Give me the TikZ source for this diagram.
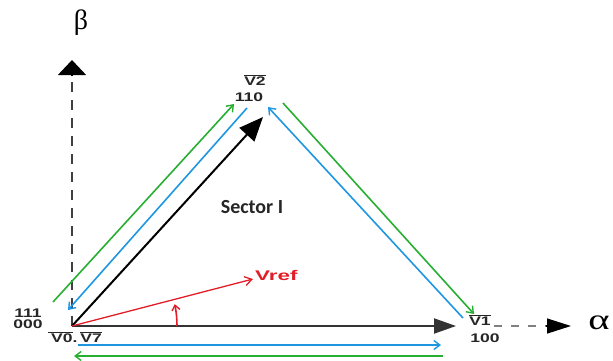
\documentclass[tikz,border=0pt]{standalone}
\usepackage{fontspec}
\setmainfont{Liberation Sans}
\newfontfamily\grkfont{Liberation Serif}
\newfontfamily\calfont{Carlito}
\usetikzlibrary{arrows.meta}
\definecolor{gr}{RGB}{40,175,50}
\definecolor{bl}{RGB}{30,150,225}
\definecolor{rd}{RGB}{225,30,40}
\newcommand{\stlbl}[1]{\scalebox{1.4}[1]{#1}}
\tikzset{
  lbl/.style={font=\bfseries\fontsize{12.5}{12.5}\selectfont, inner sep=0pt, text=black!85},
  col/.style={line width=1.6pt,-{Straight Barb[length=6pt,width=9pt,line width=1.4pt]}},
}
\begin{document}
\begin{tikzpicture}[x=1pt,y=-1pt]
\useasboundingbox (0,0) rectangle (613,360);
\coordinate (O) at (72,326);
% beta axis
\coordinate (btop) at (72,60);
\coordinate (bmid) at (72,77);
\draw[dash pattern=on 10pt off 8pt, line width=1.4pt, black!75] (O) -- (bmid);
\draw[-{Triangle[length=15pt,width=28pt]}, line width=1.3pt] (72,76) -- (btop);
\node (beta) at (81,23) {\grkfont\fontsize{28}{28}\selectfont β};
% alpha axis
\coordinate (atip) at (456,326);
\draw[line width=2pt, -{Triangle[length=22pt,width=15pt]}, black!80] (O) -- (atip);
\node[lbl] (V1) at (480,320) {\stlbl{$\overline{\mbox{V1}}$}};
\node[lbl] (c100) at (485,338) {\stlbl{100}};
\coordinate (dstart) at (494,326);
\coordinate (dend) at (546,326);
\coordinate (alphatip) at (571,326);
\draw[dash pattern=on 8pt off 9pt, line width=1.3pt, gray] (dstart) -- (dend);
\draw[-{Triangle[length=24pt,width=15pt]}, line width=1.3pt] (dend) -- (alphatip);
\node (alpha) at (599,323) {\scalebox{1.4}[1]{\grkfont\fontsize{29}{29}\selectfont α}};
% V2
\node[lbl] (V2) at (255,80) {\stlbl{$\overline{\mbox{V2}}$}};
\node[lbl] (c110) at (249,97) {\stlbl{110}};
\coordinate (Vt) at (263,117);
\draw[line width=2pt, -{Triangle[length=24pt,width=20pt]}] (O) -- (Vt);
% origin labels
\node[lbl] (c111) at (28,313) {\stlbl{111}};
\node[lbl] (c000) at (28,324) {\stlbl{000}};
\node[lbl] (V0) at (75,337) {\stlbl{$\overline{\mbox{\,V0}}\mbox{.\,}\overline{\mbox{V7}}$}};
% colored lines left
\coordinate (gl0) at (53,302); \coordinate (gl1) at (234,104);
\draw[col, gr] (gl0) -- (gl1);
\coordinate (bl0) at (247,108); \coordinate (bl1) at (68,310);
\draw[col, bl] (bl0) -- (bl1);
% right
\coordinate (br0) at (463,318); \coordinate (br1) at (268,107);
\draw[col, bl] (br0) -- (br1);
\coordinate (gr0) at (283,103); \coordinate (gr1) at (474,314);
\draw[col, gr] (gr0) -- (gr1);
% bottom
\coordinate (bb0) at (78,345); \coordinate (bb1) at (441,345);
\draw[col, bl] (bb0) -- (bb1);
\coordinate (gb0) at (443,356); \coordinate (gb1) at (74,356);
\draw[col, gr] (gb0) -- (gb1);
% Vref
\coordinate (Vr) at (253,279);
\draw[rd, line width=1.3pt, -{Straight Barb[length=7pt,width=9pt,line width=1.3pt]}] (O) -- (Vr);
\node[rd, font=\bfseries\fontsize{14}{14}\selectfont, inner sep=0pt, anchor=west] (vref) at (255,275) {\scalebox{1.6}[1]{Vref}};
\draw[rd, line width=1.6pt, -{Straight Barb[length=5pt,width=8pt,line width=1.4pt]}] (177,326) arc[start angle=0, end angle=-12, radius=105];
\node[font=\calfont\bfseries\fontsize{20}{20}\selectfont, text=black!85] (sec) at (252,207) {Sector I};
\end{tikzpicture}
\end{document}
